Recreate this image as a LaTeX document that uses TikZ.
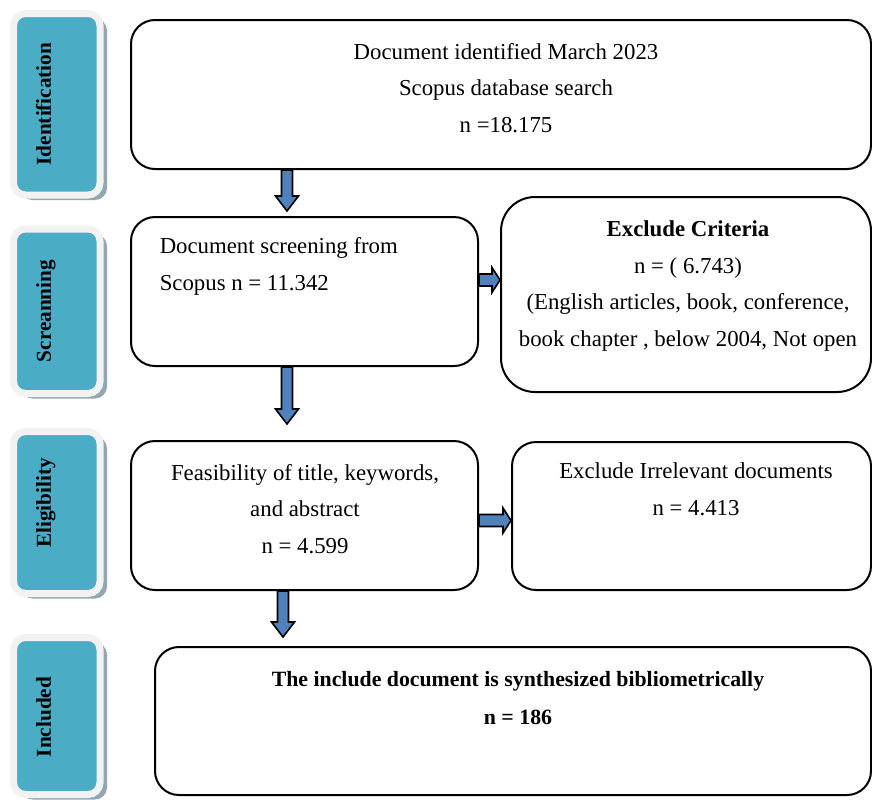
\documentclass[tikz,border=0pt]{standalone}
\usepackage{fontspec}
\setmainfont{Liberation Serif}
\usepackage{xcolor}
\usepackage{tikz}
\usetikzlibrary{positioning,calc,shadows}
\definecolor{stageteal}{RGB}{75,172,198}
\definecolor{stagering}{RGB}{242,242,242}
\definecolor{stageshadow}{RGB}{146,168,176}
\definecolor{arrowblue}{RGB}{79,129,189}
\tikzset{every picture/.style={line width=0.75pt}}
\tikzset{
  stagebox/.style={draw=stagering, line width=3.5pt, fill=stageteal, rounded corners=6pt,
    minimum width=43.25pt, inner sep=0pt,
    drop shadow={shadow xshift=3.5pt, shadow yshift=-2.5pt, fill=stageshadow, opacity=1}},
  stageword/.style={rotate=90, inner sep=0pt, text height=0.7em, text depth=0.22em,
    font=\fontsize{10.6}{12}\selectfont\bfseries},
  flowbox/.style={draw, line width=1pt, rounded corners=12pt, inner sep=0pt},
  flowtext/.style={align=center, inner sep=0pt, font=\fontsize{11.4}{18.4}\selectfont},
  downblock/.style={draw=black, line width=0.8pt, fill=arrowblue,
    to path={let \p1=(\tikztostart), \p2=(\tikztotarget) in
      (\x2-2.75pt,\y1) -- (\x2+2.75pt,\y1) -- (\x2+2.75pt,\y2+7.5pt) -- (\x2+5.75pt,\y2+7.5pt)
      -- (\x2,\y2) -- (\x2-5.75pt,\y2+7.5pt) -- (\x2-2.75pt,\y2+7.5pt) -- cycle}},
  rightblock/.style={draw=black, line width=0.8pt, fill=arrowblue,
    to path={let \p1=(\tikztostart), \p2=(\tikztotarget) in
      (\x1,\y2-3pt) -- (\x2-4pt,\y2-3pt) -- (\x2-4pt,\y2-6.25pt) -- (\x2,\y2)
      -- (\x2-4pt,\y2+6.25pt) -- (\x2-4pt,\y2+3pt) -- (\x1,\y2+3pt) -- cycle}}
}

\begin{document}
\begin{tikzpicture}[x=0.5pt,y=-0.5pt]
\useasboundingbox (0,0) rectangle (872,799);
% stages on the left
\node[stagebox, minimum height=90.75pt] (idstage) at (56.75,104.25) {};
\node[stagebox, minimum height=82.25pt] (scrstage) at (56.75,311.25) {};
\node[stagebox, minimum height=81pt] (eligstage) at (56.75,512.5) {};
\node[stagebox, minimum height=78.5pt] (inclstage) at (56.75,716) {};
\node[stageword] (idword) at (46,104) {Identification};
\node[stageword] (scrword) at (46,311) {Screanning};
\node[stageword] (eligword) at (46,503) {Eligibility};
\node[stageword] (inclword) at (46,717) {Included};
%
% boxes
\node[flowbox, minimum width=370pt, minimum height=74.5pt] (id) at (501,94.5) {};
\node[flowbox, minimum width=173.5pt, minimum height=74.5pt] (scr) at (304.5,291.5) {};
\node[flowbox, rounded corners=17pt, minimum width=185pt, minimum height=97.5pt] (excl) at (686,294.5) {};
\node[flowbox, minimum width=173.5pt, minimum height=74.5pt] (elig) at (304.5,515.5) {};
\node[flowbox, minimum width=179.5pt, minimum height=74pt] (irr) at (691.5,516) {};
\node[flowbox, minimum width=358pt, minimum height=74pt] (incl) at (513,721) {};
%
\node[flowtext] (idtxt) at (506,88) {Document identified March 2023\\Scopus database search\\n =18.175};
\node[flowtext, align=left, anchor=west] (scrtxt) at (159,266.5) {Document screening from\\Scopus n = 11.342};
\node[flowtext] (excltxt) at (688,286) {\textbf{Exclude Criteria}\\n = ( 6.743)\\(English articles, book, conference,\\book chapter , below 2004, Not open};
\node[flowtext] (eligtxt) at (305,509) {Feasibility of title, keywords,\\and abstract\\n = 4.599};
\node[flowtext] (irrtxt) at (696,489.5) {Exclude Irrelevant documents\\n = 4.413};
\node[flowtext, font=\fontsize{10.9}{19}\selectfont\bfseries] (incltxt) at (518,698) {The include document is synthesized bibliometrically\\n = 186};
%
% block arrows
\draw[downblock] (id.south) to ([xshift=-8.75pt,yshift=2.5pt]scr.north);
\draw[rightblock] (scr.east) to ([yshift=7.25pt]excl.west);
\draw[downblock] (scr.south) to ([xshift=-8.75pt,yshift=8pt]elig.north);
\draw[rightblock] (elig.east) to ([yshift=-2.25pt]irr.west);
\draw[downblock] (elig.south) to ([xshift=64.5pt,yshift=4.5pt]incl.north west);
\end{tikzpicture}
\end{document}
